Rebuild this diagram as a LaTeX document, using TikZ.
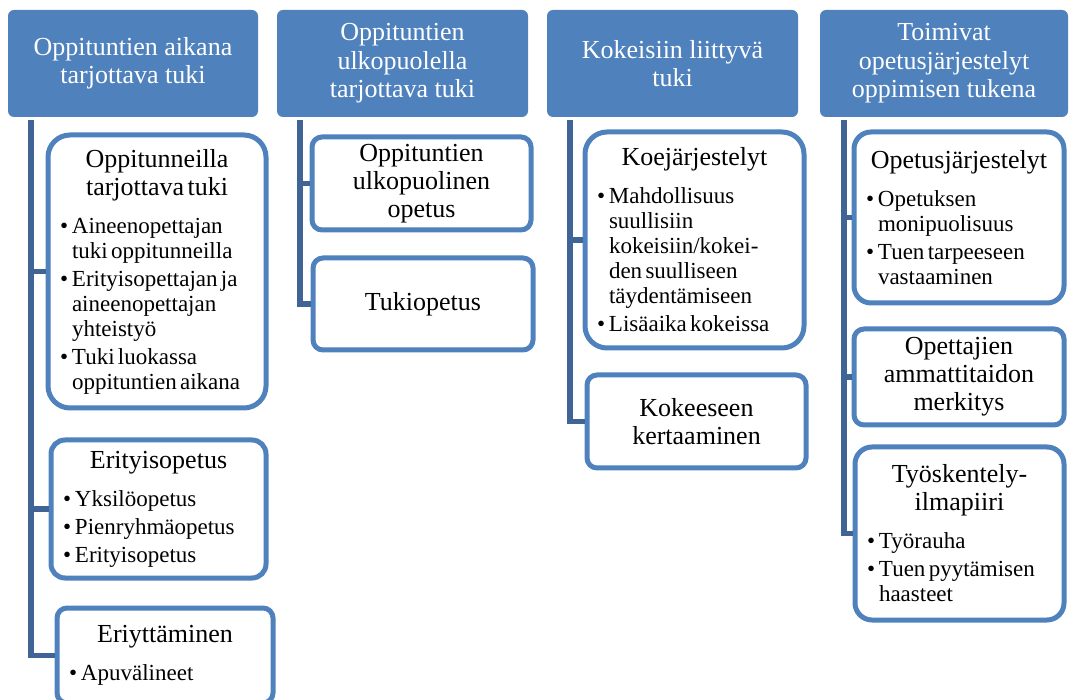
\documentclass[tikz,border=0pt]{standalone}
\usepackage{fontspec}
\setmainfont{Liberation Serif}[Ligatures=TeX]
\definecolor{hblue}{RGB}{79,129,189}
\definecolor{lblue}{RGB}{64,100,150}
\newcommand\ttl[1]{{\fontsize{26}{28}\selectfont\centering #1\par}}
\newcommand\tgap{\vspace{10pt}}
\newcommand\bul[1]{{\fontsize{23}{25}\selectfont\raggedright\leftskip=14pt\parskip=3pt\noindent\llap{\makebox[12pt][l]{\textbullet}}#1\par}}
\tikzset{
  head/.style={fill=hblue, rounded corners=6pt, text=white, align=center,
    font=\rmfamily\fontsize{26}{28.5}\selectfont, inner sep=0pt, minimum height=107pt},
  box/.style={draw=hblue, line width=5pt, fill=white, inner sep=0pt, font=\rmfamily},
  tbox/.style={box, align=center, font=\rmfamily\fontsize{26}{28}\selectfont},
  conn/.style={draw=lblue, line width=5.5pt},
}
\begin{document}
\begin{tikzpicture}[x=1pt,y=-1pt]
\useasboundingbox (0,0) rectangle (1069,700);
% headers
\node[head, minimum width=250pt] (h1) at (133,63.5) {Oppituntien aikana\\tarjottava tuki};
\node[head, minimum width=251pt] (h2) at (402.5,63.5) {Oppituntien\\ulkopuolella\\tarjottava tuki};
\node[head, minimum width=251pt] (h3) at (672.5,63.5) {Kokeisiin liittyvä\\tuki};
\node[head, minimum width=248pt] (h4) at (944,63.5) {Toimivat\\opetusjärjestelyt\\oppimisen tukena};
% column 1
\node[box, minimum width=218pt, minimum height=273pt, rounded corners=22pt, text width=198pt] (c1) at (157,271.5)
 {\ttl{Oppitunneilla\\tarjottava tuki}\tgap
  \bul{Aineenopettajan\\tuki oppitunneilla}
  \bul{Erityisopettajan ja\\aineenopettajan\\yhteistyö}
  \bul{Tuki luokassa\\oppituntien aikana}};
\node[box, minimum width=215pt, minimum height=138pt, rounded corners=14pt, text width=195pt] (c2) at (158.5,509)
 {\ttl{Erityisopetus}\tgap
  \bul{Yksilöopetus}
  \bul{Pienryhmäopetus}
  \bul{Erityisopetus}};
\node[box, minimum width=216pt, minimum height=95pt, rounded corners=10pt, text width=196pt] (c3) at (165,655.5)
 {\ttl{Eriyttäminen}\tgap
  \bul{Apuvälineet}};
% column 2
\node[tbox, minimum width=219pt, minimum height=93pt, rounded corners=10pt] (c4) at (421.5,183.5)
 {Oppituntien\\ulkopuolinen\\opetus};
\node[tbox, minimum width=220pt, minimum height=92pt, rounded corners=10pt] (c5) at (423,304)
 {Tukiopetus};
% column 3
\node[box, minimum width=219pt, minimum height=216pt, rounded corners=22pt, text width=199pt] (c6) at (694.5,240)
 {\ttl{Koejärjestelyt}\tgap
  \bul{Mahdollisuus\\suullisiin\\kokeisiin/kokei-\\den suulliseen\\täydentämiseen}
  \bul{Lisäaika kokeissa}};
\node[tbox, minimum width=219pt, minimum height=93pt, rounded corners=10pt] (c7) at (696.5,421.5)
 {Kokeeseen\\kertaaminen};
% column 4
\node[box, minimum width=210pt, minimum height=171pt, rounded corners=17pt, text width=190pt] (c8) at (959,217.5)
 {\ttl{Opetusjärjestelyt}\tgap
  \bul{Opetuksen\\monipuolisuus}
  \bul{Tuen tarpeeseen\\vastaaminen}};
\node[tbox, minimum width=210pt, minimum height=96pt, rounded corners=10pt] (c9) at (959,377)
 {Opettajien\\ammattitaidon\\merkitys};
\node[box, minimum width=209pt, minimum height=173pt, rounded corners=17pt, text width=189pt] (c10) at (959.5,533.5)
 {\ttl{Työskentely-\\ilmapiiri}\tgap
  \bul{Työrauha}
  \bul{Tuen pyytämisen\\haasteet}};
% connectors
\draw[conn] ([shift={(23pt,-3pt)}]h1.south west) |- (c3.west);
\draw[conn] ([shift={(23pt,-3pt)}]h1.south west) |- (c1.west);
\draw[conn] ([shift={(23pt,-3pt)}]h1.south west) |- (c2.west);
\draw[conn] ([shift={(23pt,-3pt)}]h2.south west) |- (c5.west);
\draw[conn] ([shift={(23pt,-3pt)}]h2.south west) |- (c4.west);
\draw[conn] ([shift={(23pt,-3pt)}]h3.south west) |- (c7.west);
\draw[conn] ([shift={(23pt,-3pt)}]h3.south west) |- (c6.west);
\draw[conn] ([shift={(24pt,-3pt)}]h4.south west) |- (c10.west);
\draw[conn] ([shift={(24pt,-3pt)}]h4.south west) |- (c8.west);
\draw[conn] ([shift={(24pt,-3pt)}]h4.south west) |- (c9.west);
\end{tikzpicture}
\end{document}
